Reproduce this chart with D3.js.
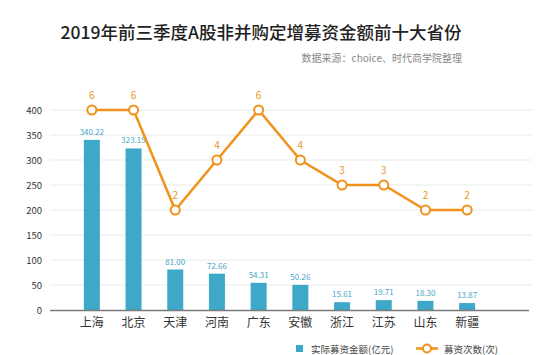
<!DOCTYPE html>
<html><head><meta charset="utf-8">
<script src="https://cdn.jsdelivr.net/npm/d3@7"></script>
<style>body{margin:0;background:#fff}svg{display:block}</style>
</head><body>
<svg id="c" width="554" height="355"></svg>
<script>
const categories = ["上海","北京","天津","河南","广东","安徽","浙江","江苏","山东","新疆"];
const amounts = [340.22,323.15,81.00,72.66,54.31,50.26,15.61,19.71,18.30,13.87];
const counts = [6,6,2,4,6,4,3,3,2,2];
const yTicks = [0,50,100,150,200,250,300,350,400];
const title = "2019年前三季度A股非并购定增募资金额前十大省份";
const source = "数据来源：choice、时代商学院整理";
const legendBar = "实际募资金额(亿元)";
const legendLine = "募资次数(次)";

const font = "'Noto Sans CJK SC','Noto Sans',sans-serif";
const barColor = "#3ea8c8", lineColor = "#f0921c";
const svg = d3.select("#c");

const x = d3.scaleBand().domain(categories).range([71, 488]).paddingInner(0.6).paddingOuter(0.3);
const xc = d => x(d) + x.bandwidth()/2;
const y = d3.scaleLinear().domain([0,400]).range([310,110]);
const yc = d3.scaleLinear().domain([-2,6]).range([310,110]);

// title
svg.append("text").attr("x",261).attr("y",39).attr("text-anchor","middle")
  .attr("font-family",font).attr("font-size",17.5).attr("font-weight",500).attr("fill","#222").text(title);
svg.append("text").attr("x",462).attr("y",62).attr("text-anchor","end")
  .attr("font-family",font).attr("font-size",10).attr("fill","#888").text(source);

// grid
svg.append("g").selectAll("line").data(yTicks.filter(t=>t>0)).join("line")
  .attr("x1",50).attr("x2",532).attr("y1",d=>y(d)).attr("y2",d=>y(d))
  .attr("stroke","#eaeaea").attr("stroke-width",1);

// y axis
const ya = svg.append("g").attr("transform","translate(44,0)")
  .call(d3.axisLeft(y).tickValues(yTicks).tickSize(0).tickPadding(2));
ya.select(".domain").remove();
ya.selectAll("text").attr("font-family",font).attr("font-size",9.5).attr("fill","#333");

// bars
svg.append("g").selectAll("rect").data(categories).join("rect")
  .attr("x",(d)=>xc(d)-8).attr("width",16)
  .attr("y",(d,i)=>y(amounts[i])).attr("height",(d,i)=>y(0)-y(amounts[i]))
  .attr("fill",barColor);
svg.append("g").selectAll("text").data(categories).join("text")
  .attr("x",d=>xc(d)).attr("y",(d,i)=>y(amounts[i])-5).attr("text-anchor","middle")
  .attr("font-family",font).attr("font-size",8).attr("fill","#4aa6c8")
  .text((d,i)=>amounts[i].toFixed(2));

// baseline / x axis
svg.append("line").attr("x1",50).attr("x2",529).attr("y1",310.5).attr("y2",310.5)
  .attr("stroke","#7a7a7a").attr("stroke-width",1.5);
const xa = svg.append("g").attr("transform","translate(0,311)")
  .call(d3.axisBottom(x).tickSize(0).tickPadding(7));
xa.select(".domain").remove();
xa.selectAll("text").attr("font-family",font).attr("font-size",12).attr("fill","#333");

// line
const line = d3.line().x((d,i)=>xc(categories[i])).y(d=>yc(d));
svg.append("path").datum(counts).attr("d",line).attr("fill","none")
  .attr("stroke",lineColor).attr("stroke-width",2.5);
svg.append("g").selectAll("circle").data(counts).join("circle")
  .attr("cx",(d,i)=>xc(categories[i])).attr("cy",d=>yc(d)).attr("r",4.5)
  .attr("fill","#fff").attr("stroke",lineColor).attr("stroke-width",2);
svg.append("g").selectAll("text").data(counts).join("text")
  .attr("x",(d,i)=>xc(categories[i])).attr("y",d=>yc(d)-11).attr("text-anchor","middle")
  .attr("font-family",font).attr("font-size",10).attr("fill","#e8962a").text(d=>d);

// legend
const lg = svg.append("g");
lg.append("rect").attr("x",296).attr("y",345).attr("width",7).attr("height",7).attr("fill",barColor);
lg.append("text").attr("x",311).attr("y",348.5).attr("dominant-baseline","central").attr("font-family",font).attr("font-size",9.5).attr("fill","#444").text(legendBar);
lg.append("line").attr("x1",416).attr("x2",438).attr("y1",348.5).attr("y2",348.5).attr("stroke",lineColor).attr("stroke-width",2.5);
lg.append("circle").attr("cx",427).attr("cy",348.5).attr("r",4).attr("fill","#fff").attr("stroke",lineColor).attr("stroke-width",2);
lg.append("text").attr("x",444).attr("y",348.5).attr("dominant-baseline","central").attr("font-family",font).attr("font-size",9.5).attr("fill","#444").text(legendLine);
</script>
</body></html>
